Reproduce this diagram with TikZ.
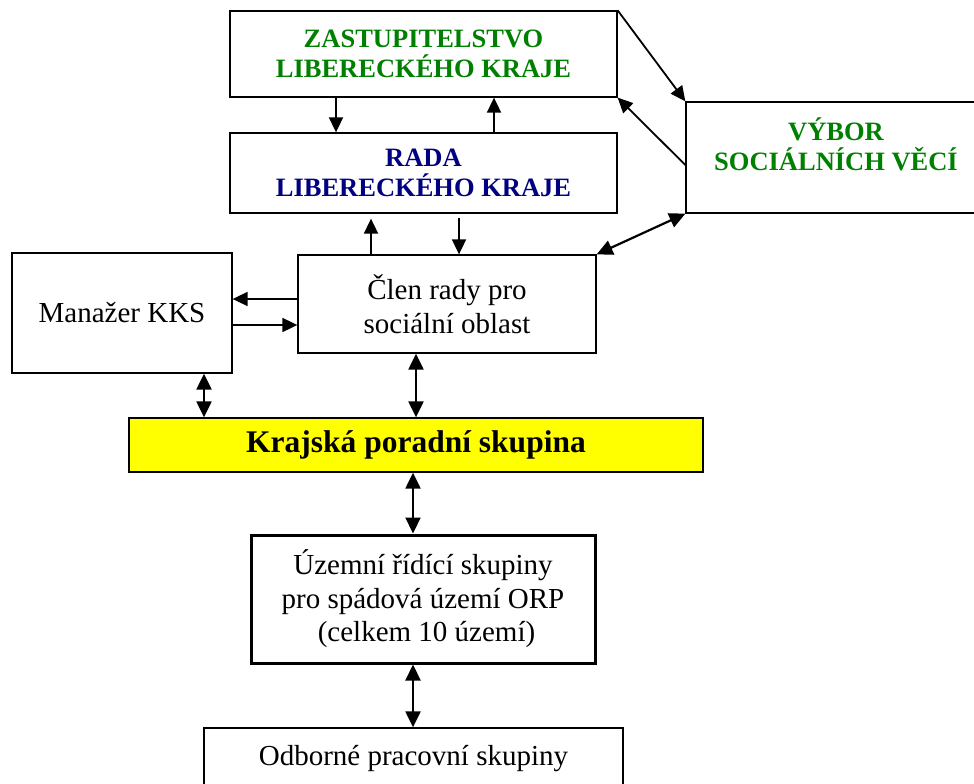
\documentclass[tikz,border=0pt]{standalone}
\usepackage{fontspec}
\setmainfont{Liberation Serif}
\usetikzlibrary{arrows.meta}
\definecolor{wgreen}{RGB}{0,128,0}
\definecolor{wnavy}{RGB}{0,0,128}
\definecolor{wyellow}{RGB}{255,255,0}
\begin{document}
\begin{tikzpicture}[x=1pt,y=-1pt,
  box/.style={draw=black,line width=1.3pt,inner sep=0pt,align=center,
    font=\fontsize{29}{33.5}\selectfont},
  capsbold/.style={font=\fontsize{26.5}{30}\selectfont\bfseries},
  tip/.tip={Triangle[length=15pt,width=14pt]},
  dtip/.tip={Triangle[length=16pt,width=15pt]},
  arr/.style={line width=1.8pt,-tip},
  darr/.style={line width=2.2pt,dtip-dtip}]
\useasboundingbox (0,0) rectangle (974,784);
\clip (0,0) rectangle (974,784);
\fill[white] (0,0) rectangle (974,784);
% boxes
\node[box,capsbold,text=wgreen,minimum width=387pt,minimum height=86pt] (zast) at (423.5,54)
  {\raisebox{-1.5pt}{ZASTUPITELSTVO}\\\raisebox{-1.5pt}{LIBERECKÉHO KRAJE}};
\node[box,capsbold,text=wnavy,minimum width=387pt,minimum height=80pt] (rada) at (423.5,173)
  {\raisebox{-3pt}{RADA}\\\raisebox{-3pt}{LIBERECKÉHO KRAJE}};
\node[box,minimum width=300pt,minimum height=111pt] (vybor) at (836,157.5) {};
\node[capsbold,text=wgreen,align=center,inner sep=0pt] (vybortext) at (836,144)
  {VÝBOR\\SOCIÁLNÍCH VĚCÍ};
\node[box,minimum width=298pt,minimum height=98pt] (clen) at (447,304)
  {Člen rady pro\\sociální oblast};
\node[box,minimum width=220pt,minimum height=120pt] (manazer) at (122,313)
  {Manažer KKS};
\node[box,fill=wyellow,minimum width=574pt,minimum height=54pt,
  font=\fontsize{31.5}{36}\selectfont\bfseries] (kps) at (416,445)
  {Krajská poradní skupina};
\node[box,line width=3pt,minimum width=344pt,minimum height=128pt] (uzemni) at (423,599)
  {Územní řídící skupiny\\pro spádová území ORP\\\hspace*{7pt}(celkem 10 území)};
\node[box,minimum width=419pt,minimum height=62pt] (odborne) at (413.5,759)
  {Odborné pracovní skupiny};
% connectors
\draw[arr] ([xshift=-87.5pt]zast.south) -- ([xshift=-87.5pt]rada.north);
\draw[arr] ([xshift=70.5pt]rada.north) -- ([xshift=70.5pt]zast.south);
\draw[arr] (zast.north east) -- (vybor.north west);
\draw[arr] ([yshift=-7.5pt]vybor.west) -- (zast.south east);
\draw[arr] ([xshift=-76pt]clen.north) -- ([xshift=-52.5pt,yshift=-5pt]rada.south);
\draw[arr] ([xshift=35.5pt,yshift=-4pt]rada.south) -- ([xshift=12pt]clen.north);
\draw[darr] (vybor.south west) -- (clen.north east);
\draw[arr] ([yshift=5pt]clen.west) -- ([yshift=14pt]manazer.east);
\draw[arr] ([yshift=-12pt]manazer.east) -- ([yshift=-21pt]clen.west);
\draw[darr] ([xshift=82pt]manazer.south) -- ([xshift=-212pt]kps.north);
\draw[darr] ([xshift=-31pt]clen.south) -- (kps.north);
\draw[darr] ([xshift=-3pt]kps.south) -- ([xshift=-10pt]uzemni.north);
\draw[darr] ([xshift=-10pt]uzemni.south) -- ([xshift=-0.5pt]odborne.north);
\end{tikzpicture}
\end{document}
